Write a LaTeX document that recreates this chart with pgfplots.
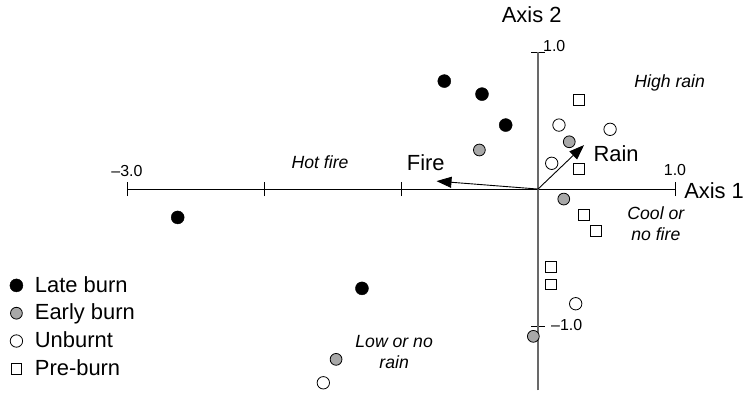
\documentclass[border=0pt]{standalone}
\usepackage{fontspec}
\setmainfont{Liberation Sans}
\usepackage{pgfplots}
\pgfplotsset{compat=1.18}
\usetikzlibrary{arrows.meta}
\definecolor{fillgray}{RGB}{168,168,168}
\definecolor{axisgray}{RGB}{105,105,105}
\newcommand{\bigf}{\fontsize{22}{26}\selectfont}
\newcommand{\italf}{\fontsize{17.7}{20.7}\selectfont\itshape}
\newcommand{\tickf}{\fontsize{16}{19}\selectfont}
\begin{document}
\begin{tikzpicture}
\begin{axis}[
  x=137bp, y=137bp,
  xmin=-3, xmax=1, ymin=-1.47, ymax=1,
  axis lines=middle,
  axis line style={-},
  x axis line style={black, line width=1.1bp},
  y axis line style={axisgray, line width=1.4bp},
  clip=false,
  xtick={-3,-2,-1,1}, ytick={-1,1},
  xticklabels={,,,}, yticklabels={,},
  tick align=center,
  major tick length=14bp,
  tick style={black, line width=0.9bp},
  legend style={at={(axis cs:-3.856,-0.604)}, anchor=north west,
    draw=none, fill=none, inner sep=0pt, row sep=0pt,
    font=\bigf, column sep=12bp,
    nodes={inner sep=0pt, text height=20bp, text depth=7.8bp}},
  legend cell align=left,
  legend image code/.code={\draw[#1] plot coordinates {(0bp,0.5bp)};},
]
\addplot[only marks, mark=*, mark size=6.5bp, mark options={fill=black, draw=black}]
  coordinates {(-0.684,0.788) (-0.409,0.693) (-0.236,0.467) (-2.630,-0.207) (-1.285,-0.725)};
\addlegendentry{Late burn}
\addplot[only marks, mark=*, mark size=5.9bp, mark options={fill=fillgray, draw=black, line width=0.8bp}]
  coordinates {(-0.428,0.285) (0.228,0.345) (0.188,-0.073) (-0.034,-1.075) (-1.474,-1.243)};
\addlegendentry{Early burn}
\addplot[only marks, mark=o, mark size=6.2bp, mark options={draw=black, fill=white, line width=0.8bp}]
  coordinates {(0.153,0.467) (0.526,0.436) (0.100,0.188) (0.275,-0.837) (-1.567,-1.414)};
\addlegendentry{Unburnt}
\addplot[only marks, mark=square, mark size=5.2bp, mark options={draw=black, fill=white, line width=0.8bp}]
  coordinates {(0.297,0.650) (0.297,0.146) (0.334,-0.190) (0.423,-0.304) (0.093,-0.567) (0.093,-0.696)};
\addlegendentry{Pre-burn}
\addplot[forget plot, black, line width=0.9bp, -{Triangle[length=15bp,width=11bp]}]
  coordinates {(0,0) (-0.741,0.058)};
\addplot[forget plot, black, line width=0.9bp, -{Triangle[length=15bp,width=11bp]}]
  coordinates {(0,0) (0.336,0.321)};
% labels
\node[anchor=base, inner sep=0pt, font=\bigf] at (axis cs:-0.046,1.214) {Axis 2};
\node[anchor=base west, inner sep=0pt, font=\bigf] at (axis cs:1.066,-0.068) {Axis 1};
\node[anchor=base, inner sep=0pt, font=\bigf] at (axis cs:-0.819,0.139) {Fire};
\node[anchor=base west, inner sep=0pt, font=\bigf] at (axis cs:0.404,0.199) {Rain};
\node[anchor=base, inner sep=0pt, font=\tickf] at (axis cs:-3,0.09) {–3.0};
\node[anchor=base, inner sep=0pt, font=\tickf] at (axis cs:1,0.10) {1.0};
\node[anchor=base west, inner sep=0pt, font=\tickf] at (axis cs:0.036,1.002) {1.0};
\node[anchor=base west, inner sep=0pt, font=\tickf] at (axis cs:0.095,-1.029) {–1.0};
\node[anchor=base, inner sep=0pt, font=\italf] at (axis cs:0.961,0.742) {High rain};
\node[anchor=base, inner sep=0pt, font=\italf] at (axis cs:-1.591,0.151) {Hot fire};
\node[anchor=base, inner sep=0pt, font=\italf, align=center] at (axis cs:0.86,-0.372) {Cool or\\no fire};
\node[anchor=base, inner sep=0pt, font=\italf, align=center] at (axis cs:-1.05,-1.309) {Low or no\\rain};
\path (axis cs:-3.927,-1.482) rectangle (axis cs:1.540,1.380);
\end{axis}
\end{tikzpicture}
\end{document}
